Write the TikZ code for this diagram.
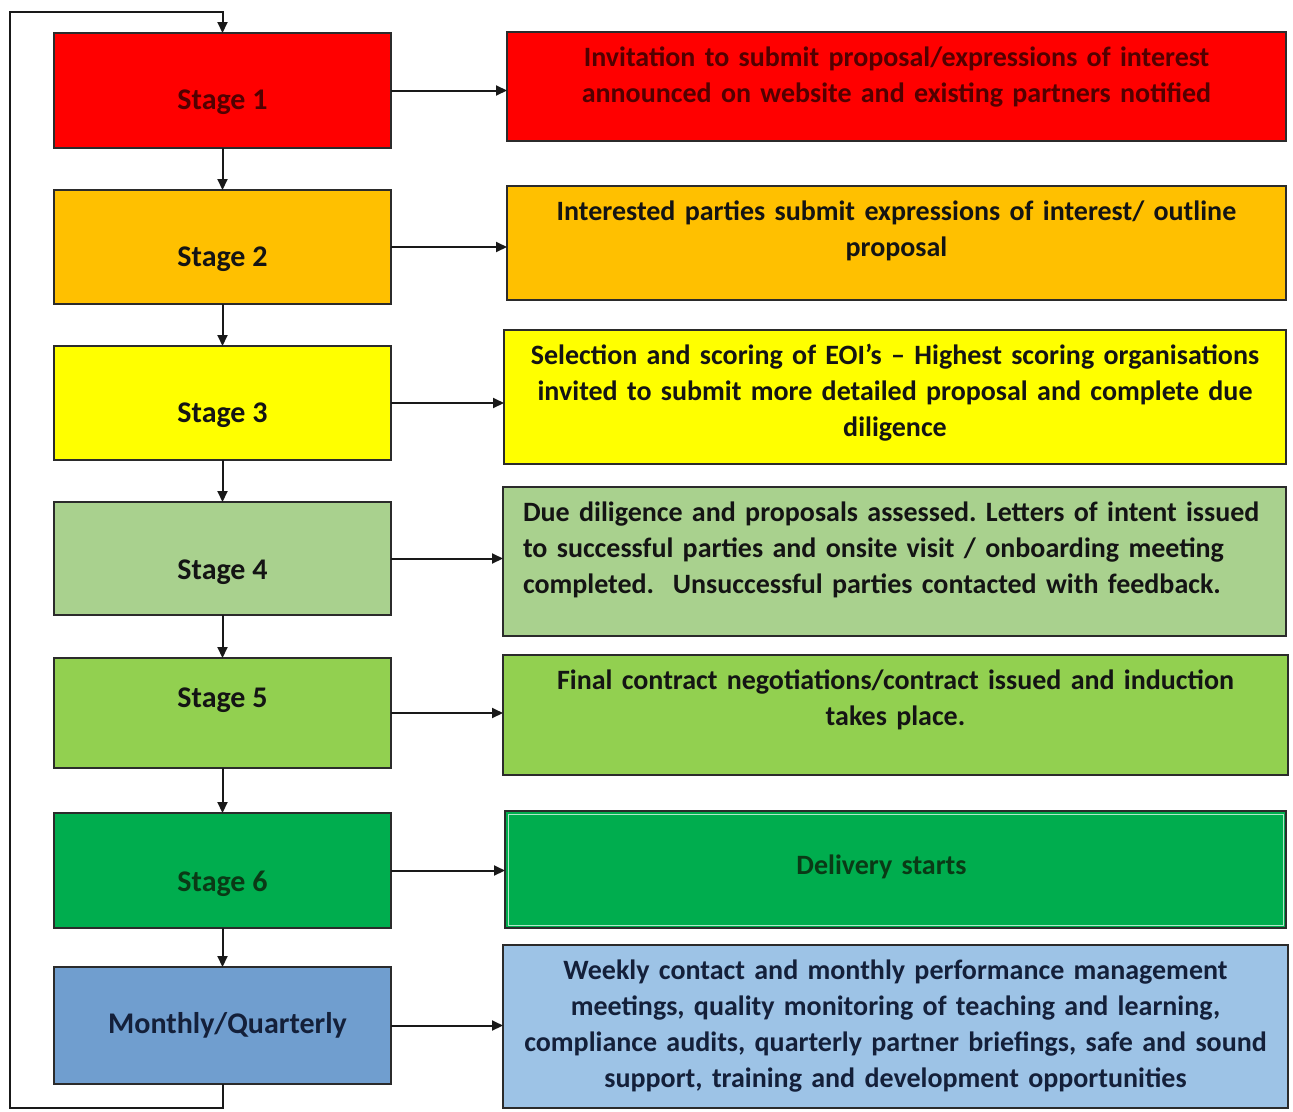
\documentclass[tikz,border=0pt]{standalone}
\usepackage{fontspec}
\setmainfont{Carlito}
\usetikzlibrary{arrows.meta}
\frenchspacing
\definecolor{cred}{HTML}{FF0000}
\definecolor{credtxt}{HTML}{520000}
\definecolor{corange}{HTML}{FFC000}
\definecolor{cyellow}{HTML}{FFFF00}
\definecolor{clgreen}{HTML}{A9D18E}
\definecolor{cgreen}{HTML}{92D050}
\definecolor{cdgreen}{HTML}{00AD4E}
\definecolor{cdgtxt}{HTML}{0A3A16}
\definecolor{cblue}{HTML}{709ECF}
\definecolor{clblue}{HTML}{9DC3E6}
\definecolor{cbluetxt}{HTML}{14203A}
\definecolor{cborder}{HTML}{2B2B2B}
\definecolor{ctext}{HTML}{141414}
\begin{document}
\begin{tikzpicture}[x=1pt,y=-1pt,
  font=\fontsize{28}{36}\selectfont\bfseries,
  box/.style={draw=cborder,line width=1.6pt,inner sep=0pt,outer sep=0pt,rectangle},
  leftbox/.style={box,minimum width=337pt},
  lbl/.style={font=\fontsize{30}{36}\selectfont\bfseries,text=ctext},
  arr/.style={line width=2pt,draw=black!90,-{Triangle[length=11pt,width=10pt]}},
  rtext/.style={text width=780pt,align=center,text=ctext}
]
\useasboundingbox[fill=white] (0,0) rectangle (1293,1111);

% left column
\node[leftbox,fill=cred,minimum height=115pt,
  label={[lbl,yshift=-11.5pt,text=credtxt]center:Stage 1}] (s1) at (222.5,90.5) {};
\node[leftbox,fill=corange,minimum height=114pt,
  label={[lbl,yshift=-12pt]center:Stage 2}] (s2) at (222.5,247) {};
\node[leftbox,fill=cyellow,minimum height=114pt,
  label={[lbl,yshift=-12pt]center:Stage 3}] (s3) at (222.5,403) {};
\node[leftbox,fill=clgreen,minimum height=113pt,
  label={[lbl,yshift=-13.5pt]center:Stage 4}] (s4) at (222.5,558.5) {};
\node[leftbox,fill=cgreen,minimum height=110pt,
  label={[lbl,yshift=13pt]center:Stage 5}] (s5) at (222.5,713) {};
\node[leftbox,fill=cdgreen,minimum height=115pt,
  label={[lbl,yshift=-13.5pt,text=cdgtxt]center:Stage 6}] (s6) at (222.5,870.5) {};
\node[leftbox,fill=cblue,minimum height=117pt,
  label={[lbl,xshift=5pt,text=cbluetxt]center:Monthly/Quarterly}] (s7) at (222.5,1025.5) {};

% right column
\node[box,fill=cred,minimum width=779pt,minimum height=109pt,
  label={[rtext,text=credtxt,yshift=9.5pt]center:Invitation to submit proposal/expressions of interest\\announced on website and existing partners notified}] (r1) at (896.5,86.5) {};
\node[box,fill=corange,minimum width=779pt,minimum height=114pt,
  label={[rtext,yshift=12pt]center:Interested parties submit expressions of interest/ outline\\proposal}] (r2) at (896.5,243) {};
\node[box,fill=cyellow,minimum width=782pt,minimum height=134pt,
  label={[rtext,yshift=4pt]center:Selection and scoring of EOI’s – Highest scoring organisations\\invited to submit more detailed proposal and complete due\\diligence}] (r3) at (895,397) {};
\node[box,fill=clgreen,minimum width=783pt,minimum height=149pt,
  label={[rtext,align=left,text width=760pt,xshift=8.5pt,yshift=11.5pt]center:Due diligence and proposals assessed. Letters of intent issued\\to successful parties and onsite visit / onboarding meeting\\completed.\ \ Unsuccessful parties contacted with feedback.}] (r4) at (894.5,561.5) {};
\node[box,fill=cgreen,minimum width=785pt,minimum height=120pt,
  label={[rtext,yshift=15pt]center:Final contract negotiations/contract issued and induction\\takes place.}] (r5) at (895.5,715) {};
\node[box,fill=cdgreen,minimum width=781pt,minimum height=117pt,
  label={[rtext,text=cdgtxt,xshift=-14pt,yshift=3pt]center:Delivery starts}] (r6) at (895.5,869.5) {};
\draw[white!70!cdgreen,line width=1pt] ([shift={(3pt,-3pt)}]r6.north west) rectangle ([shift={(-3pt,3pt)}]r6.south east);
\node[box,fill=clblue,minimum width=785pt,minimum height=163pt,
  label={[rtext,text=cbluetxt]center:Weekly contact and monthly performance management\\meetings, quality monitoring of teaching and learning,\\compliance audits, quarterly partner briefings, safe and sound\\support, training and development opportunities}] (r7) at (895.5,1026.5) {};

% vertical arrows
\draw[arr] (s1.south) -- (s2.north);
\draw[arr] (s2.south) -- (s3.north);
\draw[arr] (s3.south) -- (s4.north);
\draw[arr] (s4.south) -- (s5.north);
\draw[arr] (s5.south) -- (s6.north);
\draw[arr] (s6.south) -- (s7.north);

% horizontal arrows
\foreach \i in {1,...,7}{
  \draw[arr] (s\i.east) -- (s\i.east -| r\i.west);
}

% feedback loop
\coordinate (lb) at (222.5,1108);
\coordinate (ll) at (10,1108);
\coordinate (lt) at (10,12);
\coordinate (lr) at (222.5,12);
\draw[arr] (s7.south) -- (lb) -- (ll) -- (lt) -- (lr) -- (s1.north);
\end{tikzpicture}
\end{document}
